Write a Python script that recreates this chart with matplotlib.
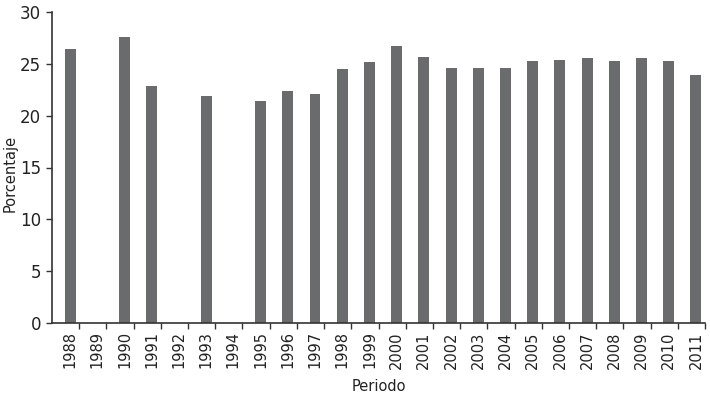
import numpy as np
import matplotlib.pyplot as plt

years = ['1988', '1989', '1990', '1991', '1992', '1993', '1994', '1995', '1996', '1997',
         '1998', '1999', '2000', '2001', '2002', '2003', '2004', '2005', '2006', '2007',
         '2008', '2009', '2010', '2011']
# missing years have no bar (nan)
values = [26.4, np.nan, 27.6, 22.9, np.nan, 21.9, np.nan, 21.4, 22.4, 22.1,
          24.5, 25.2, 26.7, 25.7, 24.6, 24.6, 24.6, 25.3, 25.4, 25.6,
          25.3, 25.6, 25.3, 23.9]
y_ticks = [0, 5, 10, 15, 20, 25, 30]

plt.rcParams['font.family'] = ['DejaVu Sans']

fig = plt.figure(figsize=(7.1, 3.99), dpi=100)
ax = fig.add_axes([52 / 710, 76 / 399, 653 / 710, 311 / 399])

x = np.arange(len(years))
ax.bar(x, values, width=0.4, color='#6a6b6d')

ax.set_xlim(-0.667, len(years) - 0.667)
ax.set_ylim(0, 30)
ax.set_yticks(y_ticks)
ax.tick_params(axis='y', labelsize=12, length=4, width=1, pad=4,
               color='#333333', labelcolor='#222222')

# labels under the bars, tick marks between categories
ax.set_xticks(x)
ax.set_xticklabels(years, rotation=90, fontsize=10.5, color='#222222')
ax.tick_params(axis='x', which='major', length=0, pad=6)
ax.set_xticks(x + 0.333, minor=True)
ax.tick_params(axis='x', which='minor', length=4, width=1, color='#333333')

for s in ['top', 'right']:
    ax.spines[s].set_visible(False)
for s in ['left', 'bottom']:
    ax.spines[s].set_color('#333333')
    ax.spines[s].set_linewidth(1.2)

ax.set_xlabel('Periodo', fontsize=10.5, color='#222222')
ax.xaxis.set_label_coords(0.5, -0.18)
ax.set_ylabel('Porcentaje', fontsize=10.5, color='#222222')
ax.yaxis.set_label_coords(-0.052, 0.48)

fig.savefig('out.png', dpi=100)
